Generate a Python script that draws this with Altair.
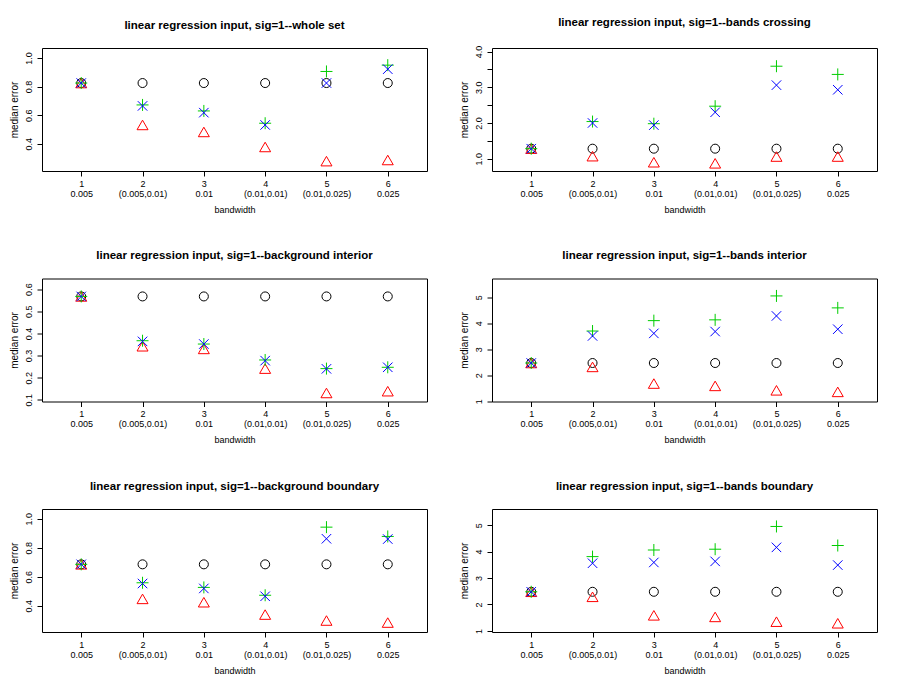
import json
import altair as alt
import pandas as pd

# ---------------- data ----------------
bw_index = [1, 2, 3, 4, 5, 6]
bw_labels = ["0.005", "(0.005,0.01)", "0.01", "(0.01,0.01)", "(0.01,0.025)", "0.025"]

titles = [
    "linear regression input, sig=1--whole set",
    "linear regression input, sig=1--bands crossing",
    "linear regression input, sig=1--background interior",
    "linear regression input, sig=1--bands interior",
    "linear regression input, sig=1--background boundary",
    "linear regression input, sig=1--bands boundary",
]

# whole set
p1_circle = [0.825, 0.825, 0.825, 0.825, 0.825, 0.825]
p1_triangle = [0.825, 0.532, 0.483, 0.378, 0.279, 0.287]
p1_plus = [0.825, 0.672, 0.630, 0.544, 0.906, 0.950]
p1_cross = [0.825, 0.665, 0.618, 0.532, 0.825, 0.922]

# bands crossing
p2_circle = [1.28, 1.28, 1.28, 1.28, 1.28, 1.28]
p2_triangle = [1.28, 1.07, 0.90, 0.87, 1.06, 1.06]
p2_plus = [1.28, 2.04, 1.98, 2.47, 3.59, 3.36]
p2_cross = [1.28, 2.00, 1.94, 2.30, 3.06, 2.93]

# background interior
p3_circle = [0.567, 0.567, 0.567, 0.567, 0.567, 0.567]
p3_triangle = [0.567, 0.342, 0.330, 0.241, 0.131, 0.139]
p3_plus = [0.567, 0.367, 0.352, 0.280, 0.241, 0.247]
p3_cross = [0.567, 0.364, 0.352, 0.277, 0.240, 0.247]

# bands interior
p4_circle = [2.47, 2.47, 2.47, 2.47, 2.47, 2.47]
p4_triangle = [2.47, 2.32, 1.68, 1.59, 1.42, 1.36]
p4_plus = [2.47, 3.70, 4.10, 4.13, 5.05, 4.59]
p4_cross = [2.47, 3.51, 3.61, 3.68, 4.28, 3.77]

# background boundary
p5_circle = [0.686, 0.686, 0.686, 0.686, 0.686, 0.686]
p5_triangle = [0.686, 0.448, 0.425, 0.340, 0.299, 0.285]
p5_plus = [0.686, 0.559, 0.527, 0.473, 0.942, 0.878]
p5_cross = [0.686, 0.554, 0.520, 0.466, 0.862, 0.860]

# bands boundary
p6_circle = [2.48, 2.48, 2.48, 2.48, 2.48, 2.48]
p6_triangle = [2.48, 2.29, 1.59, 1.53, 1.35, 1.29]
p6_plus = [2.48, 3.81, 4.06, 4.09, 4.95, 4.23]
p6_cross = [2.48, 3.56, 3.59, 3.63, 4.16, 3.49]

# y axis settings per panel: domain, tick values, label expression
y_domains = [[0.21, 1.07], [0.655, 4.10], [0.0925, 0.648], [0.99, 5.72], [0.22, 1.067], [0.96, 5.61]]
y_ticks = [
    [0.4, 0.6, 0.8, 1.0],
    [1.0, 1.5, 2.0, 2.5, 3.0, 3.5, 4.0],
    [0.1, 0.2, 0.3, 0.4, 0.5, 0.6],
    [1, 2, 3, 4, 5],
    [0.4, 0.6, 0.8, 1.0],
    [1, 2, 3, 4, 5],
]
y_label_exprs = [
    "format(datum.value, '.1f')",
    "abs(datum.value - round(datum.value)) < 0.01 ? format(datum.value, '.1f') : ''",
    "format(datum.value, '.1f')",
    "format(datum.value, 'd')",
    "format(datum.value, '.1f')",
    "format(datum.value, 'd')",
]

panels_data = [
    (p1_circle, p1_triangle, p1_plus, p1_cross),
    (p2_circle, p2_triangle, p2_plus, p2_cross),
    (p3_circle, p3_triangle, p3_plus, p3_cross),
    (p4_circle, p4_triangle, p4_plus, p4_cross),
    (p5_circle, p5_triangle, p5_plus, p5_cross),
    (p6_circle, p6_triangle, p6_plus, p6_cross),
]

FONT = "Liberation Sans"
PLUS_PATH = "M-1,0L1,0M0,-1L0,1"
CROSS_PATH = "M-1,-1L1,1M-1,1L1,-1"

x_label_expr = "[datum.label, " + json.dumps(bw_labels) + "[datum.value - 1]]"


def make_panel(i):
    circ, tri, plus, cross = panels_data[i]
    df = pd.DataFrame({"bw": bw_index, "circle": circ, "triangle": tri, "plus": plus, "cross": cross})
    base = alt.Chart(df)
    x_enc = alt.X(
        "bw:Q",
        scale=alt.Scale(domain=[0.36, 6.64], nice=False, zero=False),
        axis=alt.Axis(
            values=bw_index,
            labelExpr=x_label_expr,
            title="bandwidth",
            grid=False,
            domain=False,
            tickSize=5,
            tickColor="black",
            labelColor="black",
            labelFont=FONT,
            labelFontSize=9,
            labelLineHeight=10,
            labelPadding=3,
            labelBaseline="top",
            labelFlush=False,
            labelOverlap=False,
            titleFont=FONT,
            titleFontSize=9,
            titleFontWeight="normal",
            titleColor="black",
            titlePadding=7,
        ),
    )

    def y_enc(field):
        return alt.Y(
            f"{field}:Q",
            scale=alt.Scale(domain=y_domains[i], nice=False, zero=False),
            axis=alt.Axis(
                values=y_ticks[i],
                labelExpr=y_label_exprs[i],
                title="median error",
                grid=False,
                domain=False,
                tickSize=5,
                tickColor="black",
                labelColor="black",
                labelFont=FONT,
                labelFontSize=9,
                labelAngle=270,
                labelAlign="center",
                labelBaseline="bottom",
                labelPadding=4,
                labelFlush=False,
                labelOverlap=False,
                titleFont=FONT,
                titleFontSize=10,
                titleFontWeight="normal",
                titleColor="black",
                titlePadding=5,
            ),
        )

    layers = [
        base.mark_point(shape="circle", size=81, color="#000000", filled=False, strokeWidth=1, opacity=1).encode(x=x_enc, y=y_enc("circle")),
        base.mark_point(shape="triangle-up", size=121, color="#FF0000", filled=False, strokeWidth=1, opacity=1).encode(x=x_enc, y=y_enc("triangle")),
        base.mark_point(shape=PLUS_PATH, size=144, color="#00CD00", filled=False, strokeWidth=1, opacity=1).encode(x=x_enc, y=y_enc("plus")),
        base.mark_point(shape=CROSS_PATH, size=90, color="#0000FF", filled=False, strokeWidth=1, opacity=1).encode(x=x_enc, y=y_enc("cross")),
    ]
    return alt.layer(*layers).properties(
        width=385,
        height=123,
        title=alt.TitleParams(
            titles[i], font=FONT, fontSize=11.5, fontWeight="bold", color="black", offset=17, anchor="middle"
        ),
    )


chart = alt.concat(
    *[make_panel(i) for i in range(6)],
    columns=2,
    spacing={"row": 107.5, "column": 65},
    bounds="flush",
).properties(
    padding={"left": 0, "top": 8, "right": 5, "bottom": 5},
    background="white",
).configure_view(
    stroke="black", strokeWidth=1
)

chart.save("out.html", embed_options={"renderer": "svg", "actions": False})
